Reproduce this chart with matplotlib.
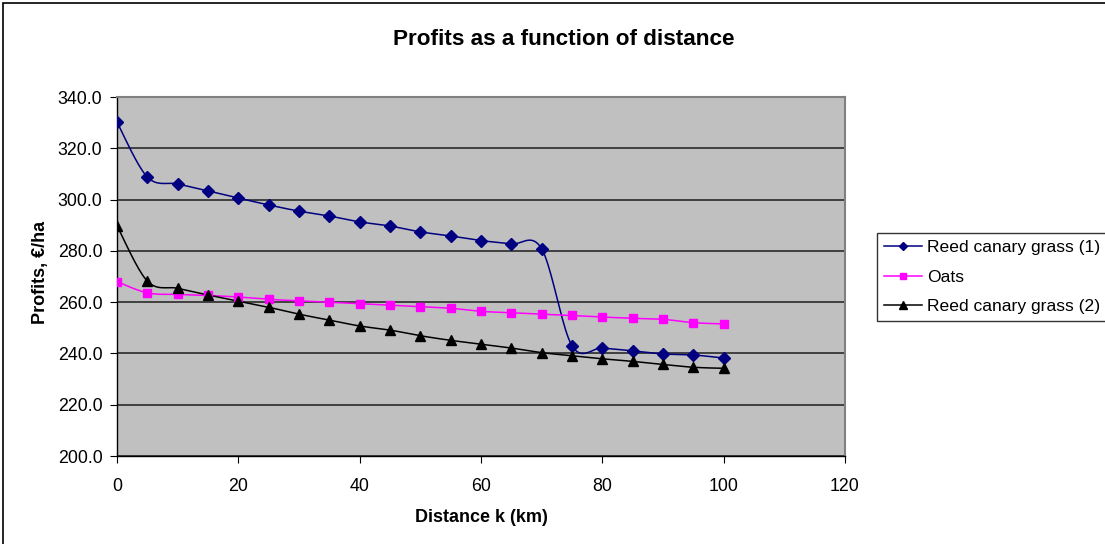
import numpy as np
import matplotlib.pyplot as plt
from matplotlib.lines import Line2D
from matplotlib.patches import Rectangle

plt.rcParams['font.family'] = ['Liberation Sans', 'DejaVu Sans']

# data
distance = [0, 5, 10, 15, 20, 25, 30, 35, 40, 45, 50, 55, 60, 65, 70, 75, 80, 85, 90, 95, 100]
reed_1 = [330.2, 308.8, 306.1, 303.4, 300.6, 297.9, 295.5, 293.6, 291.3, 289.7, 287.4,
          285.8, 284.0, 282.7, 280.8, 243.0, 242.1, 241.0, 239.8, 239.4, 238.2]
oats = [268.0, 263.6, 263.0, 262.6, 262.0, 261.1, 260.5, 260.0, 259.4, 258.8, 258.2,
        257.6, 256.4, 255.9, 255.3, 254.8, 254.2, 253.7, 253.3, 252.0, 251.5]
reed_2 = [289.8, 268.2, 265.4, 262.8, 260.4, 258.0, 255.3, 253.0, 250.7, 249.1, 246.9,
          245.1, 243.6, 242.1, 240.3, 239.1, 237.9, 236.9, 235.7, 234.6, 234.2]

labels = ['Reed canary grass (1)', 'Oats', 'Reed canary grass (2)']
colors = ['#000080', '#FF00FF', '#000000']
markers = ['D', 's', '^']
msizes = [6, 6, 7.5]


def smooth(x, y, n=20):
    # Excel-style smoothed line (bezier through the points)
    x = np.asarray(x, float)
    y = np.asarray(y, float)
    px = np.concatenate([[x[0]], x, [x[-1]]])
    py = np.concatenate([[y[0]], y, [y[-1]]])
    t = np.linspace(0, 1, n)[:, None]
    xs, ys = [], []
    for i in range(1, len(px) - 2):
        p0 = np.array([px[i], py[i]])
        p3 = np.array([px[i + 1], py[i + 1]])
        c1 = p0 + (np.array([px[i + 1], py[i + 1]]) - np.array([px[i - 1], py[i - 1]])) / 6
        c2 = p3 - (np.array([px[i + 2], py[i + 2]]) - p0) / 6
        b = ((1 - t) ** 3) * p0 + 3 * ((1 - t) ** 2) * t * c1 + 3 * (1 - t) * t ** 2 * c2 + t ** 3 * p3
        xs.append(b[:, 0])
        ys.append(b[:, 1])
    return np.concatenate(xs), np.concatenate(ys)


fig = plt.figure(figsize=(11.05, 5.44), dpi=100)
ax = fig.add_axes([117 / 1105, 1 - 456 / 544, (845 - 117) / 1105, (456 - 97) / 544])
ax.set_facecolor('#C0C0C0')

handles = []
for ys, lab, c, m, ms in zip([reed_1, oats, reed_2], labels, colors, markers, msizes):
    sx, sy = smooth(distance, ys)
    ax.plot(sx, sy, color=c, lw=1.1, zorder=3)
    ax.plot(distance, ys, linestyle='none', marker=m, color=c, markersize=ms, zorder=4)
    handles.append(Line2D([], [], color=c, lw=1.1, marker=m, markersize=ms - 1.5, label=lab))

ax.set_xlim(0, 120)
ax.set_ylim(200, 340)
ax.set_xticks(range(0, 121, 20))
ax.set_yticks(range(200, 341, 20))
ax.set_yticklabels([f'{v:.1f}' for v in range(200, 341, 20)])
ax.yaxis.grid(True, color='#404040', lw=1.4)
ax.set_axisbelow(True)
for s in ['top', 'right']:
    ax.spines[s].set_color('#808080')
    ax.spines[s].set_linewidth(1.5)
for s in ['left', 'bottom']:
    ax.spines[s].set_color('#000000')
    ax.spines[s].set_linewidth(1)
ax.tick_params(direction='out', length=5, labelsize=12.8, colors='black')
ax.tick_params(axis='y', pad=5.5)
ax.tick_params(axis='x', pad=11)

fig.text(564 / 1105, 1 - 39.5 / 544, 'Profits as a function of distance',
         fontsize=16.2, fontweight='bold', ha='center', va='center')
ax.set_xlabel('Distance k (km)', fontsize=13, fontweight='bold', va='center')
ax.xaxis.set_label_coords(0.5, (456 - 517) / 359)
ax.set_ylabel('Profits, €/ha', fontsize=13, fontweight='bold', va='center')
ax.yaxis.set_label_coords((40.5 - 117) / 728, 0.51)

leg = fig.legend(handles=handles, loc='upper left', bbox_to_anchor=(876.5 / 1105, 1 - 233 / 544),
                 fontsize=12.6, frameon=True, fancybox=False, borderpad=0.4, borderaxespad=0,
                 handlelength=2.2, handletextpad=0.3, labelspacing=0.82)
leg.get_frame().set_edgecolor('black')
leg.get_frame().set_linewidth(1)

# outer chart border
fig.patches.append(Rectangle((3 / 1105, -0.1), 1.2, 1.1 - 3 / 544, transform=fig.transFigure,
                             fill=False, edgecolor='black', lw=1.2, clip_on=False))

fig.savefig('out.png', dpi=100)
